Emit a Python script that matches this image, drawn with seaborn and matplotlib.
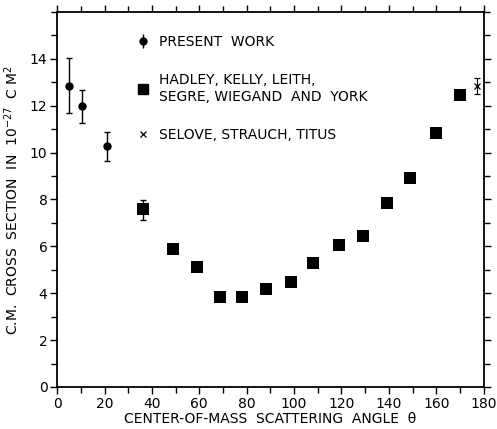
import numpy as np
import pandas as pd
import seaborn as sns
import matplotlib.pyplot as plt
import matplotlib.ticker as ticker

# present work (with errors)
pw_angle = [5.2, 10.4, 21.0, 36.2]
pw_sigma = [12.85, 11.98, 10.28, 7.56]
pw_err_lo = [1.15, 0.72, 0.62, 0.42]
pw_err_hi = [1.2, 0.7, 0.6, 0.4]

# Hadley, Kelly, Leith, Segre, Wiegand and York
hk_angle = [36.2, 48.7, 59.0, 68.6, 78.0, 88.0, 98.6, 108.2, 119.0, 129.0, 139.1, 149.1, 160.1, 170.0]
hk_sigma = [7.6, 5.9, 5.12, 3.84, 3.84, 4.16, 4.48, 5.3, 6.04, 6.44, 7.83, 8.91, 10.85, 12.45]

# Selove, Strauch, Titus
ss_angle = [177.3]
ss_sigma = [12.85]
ss_err = [0.35]

sns.set_style("ticks")
plt.rcParams['font.family'] = ['DejaVu Sans']
for k in ["text.color", "axes.labelcolor", "xtick.color", "ytick.color", "axes.edgecolor"]:
    plt.rcParams[k] = "black"

fig, ax = plt.subplots(figsize=(4.97, 4.29), dpi=100)
fig.subplots_adjust(left=0.115, right=0.973, top=0.972, bottom=0.098)

hk = pd.DataFrame({"angle": hk_angle, "sigma": hk_sigma})
sns.scatterplot(data=hk, x="angle", y="sigma", marker="s", s=75, color="black",
                edgecolor="black", linewidth=0, ax=ax, zorder=3)

ax.errorbar(pw_angle, pw_sigma, yerr=[pw_err_lo, pw_err_hi], fmt="o", color="black",
            ms=5, capsize=2.5, elinewidth=1, capthick=1, zorder=2)
ax.errorbar(ss_angle, ss_sigma, yerr=ss_err, fmt="x", color="black",
            ms=4, mew=0.9, capsize=2.5, elinewidth=0.8, capthick=0.8, zorder=2)

# legend handles
h1 = ax.errorbar([], [], yerr=[], fmt="o", color="black", ms=5, capsize=2.5, elinewidth=1)
h2 = plt.Line2D([], [], marker="s", ls="", color="black", ms=7.5)
h3 = plt.Line2D([], [], marker="x", ls="", color="black", ms=5, mew=0.9)
leg = ax.legend([h1, h2, h3],
                ["PRESENT  WORK", "HADLEY, KELLY, LEITH,\nSEGRE, WIEGAND  AND  YORK",
                 "SELOVE, STRAUCH, TITUS"],
                loc="upper left", bbox_to_anchor=(0.155, 0.972), frameon=False,
                handlelength=1.0, handletextpad=0.7, labelspacing=1.75, fontsize=10)

ax.set_xlim(0, 180)
ax.set_ylim(0, 16)
ax.xaxis.set_major_locator(ticker.MultipleLocator(20))
ax.xaxis.set_minor_locator(ticker.MultipleLocator(10))
ax.yaxis.set_major_locator(ticker.MultipleLocator(2))
ax.yaxis.set_minor_locator(ticker.MultipleLocator(1))
ax.set_yticks([0, 2, 4, 6, 8, 10, 12, 14])
ax.tick_params(which="both", direction="out", top=True, right=True, width=1, labelsize=10)
ax.tick_params(which="major", length=5, pad=2)
ax.tick_params(which="minor", length=4)
for s in ax.spines.values():
    s.set_linewidth(1.3)

ax.set_xlabel("CENTER-OF-MASS  SCATTERING  ANGLE  \u03b8", fontsize=10, labelpad=1)
ax.set_ylabel("C.M.  CROSS  SECTION  IN  $10^{-27}$  C M$^2$", fontsize=10, labelpad=6)

fig.savefig("out.png", dpi=100)
